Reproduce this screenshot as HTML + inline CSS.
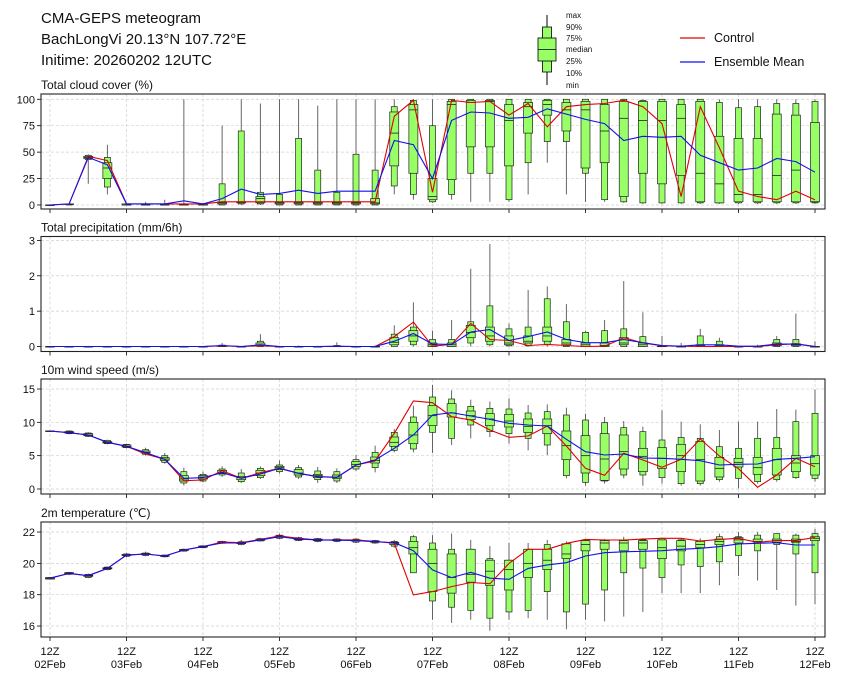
<!DOCTYPE html>
<html><head><meta charset="utf-8"><style>
html,body{margin:0;padding:0;background:#fff;}
svg{display:block;font-family:"Liberation Sans","DejaVu Sans",sans-serif;}
</style></head><body>
<svg id="chart" width="841" height="680" viewBox="0 0 841 680" xmlns="http://www.w3.org/2000/svg">
<g font-size="15" fill="#111">
<text x="41" y="23">CMA-GEPS meteogram</text>
<text x="41" y="44">BachLongVi 20.13°N 107.72°E</text>
<text x="41" y="65">Initime: 20260202 12UTC</text>
</g>
<g>
<line x1="547" y1="15" x2="547" y2="85" stroke="#000" stroke-width="1"/>
<rect x="542.5" y="27" width="9" height="45" fill="#99ff66" stroke="#000" stroke-width="0.8"/>
<rect x="538" y="38" width="18" height="23" fill="#99ff66" stroke="#000" stroke-width="0.8"/>
<line x1="538" y1="49.5" x2="556" y2="49.5" stroke="#000" stroke-width="0.8"/>
<g font-size="8" fill="#111">
<text x="566" y="18">max</text><text x="566" y="30">90%</text><text x="566" y="41">75%</text>
<text x="566" y="52">median</text><text x="566" y="64">25%</text><text x="566" y="76">10%</text><text x="566" y="88">min</text>
</g>
</g>
<g font-size="12.5" fill="#111">
<line x1="680" y1="38" x2="705" y2="38" stroke="#e00000" stroke-width="1.2"/>
<text x="714" y="42">Control</text>
<line x1="680" y1="62" x2="705" y2="62" stroke="#1010ee" stroke-width="1.2"/>
<text x="714" y="66">Ensemble Mean</text>
</g>
<g id="panels"></g>
</svg>
<script>
// ---- data (41 steps, 6-hourly from 12Z 02Feb) ----
const dayLabels = ["02Feb","03Feb","04Feb","05Feb","06Feb","07Feb","08Feb","09Feb","10Feb","11Feb","12Feb"];

const cloudTicks = [0,25,50,75,100];
const cloudControl = [0,1,46,42,1,1,1,1,1,3,3,3,3,3,3,3,3,3,84,99,12,99,97,98,85,96,74,93,95,96,99,93,77,8,93,54,13,8,5,13,5];
const cloudMean = [0,1,45,38,1,1,1,4,1,6,15,10,11,14,11,13,13,13,61,57,25,80,88,87,82,83,91,86,81,77,61,65,64,65,47,40,33,35,44,41,31];
const cloudBox = [[0,0,0,0,0,0,0],[0,0,1,1,1,1,1],[20,43,44,45,46,47,48],[10,17,25,35,40,45,57],[0,0,0,0,1,1,2],[0,0,0,0,1,1,3],[0,0,0,0,1,1,5],[0,0,0,0,1,1,100],[0,0,0,0,1,1,2],[0,0,1,2,3,20,75],[0,1,2,3,3,70,100],[0,1,2,6,8,12,96],[0,0,1,2,3,10,100],[0,0,1,2,3,63,100],[0,0,1,2,3,33,94],[0,0,1,2,3,12,100],[0,0,1,2,3,48,100],[0,0,1,2,6,33,100],[10,18,37,68,88,93,100],[5,10,30,90,95,99,100],[2,3,5,8,25,75,100],[5,10,24,95,98,100,100],[3,30,55,97,99,100,100],[3,30,55,98,99,100,100],[3,5,37,80,95,100,100],[10,40,68,93,97,100,100],[40,60,85,95,99,100,100],[10,60,70,90,97,100,100],[3,30,35,90,98,100,100],[3,5,40,70,95,100,100],[2,3,8,82,98,100,100],[1,2,30,80,98,99,100],[1,2,20,80,98,100,100],[1,2,28,82,95,100,100],[1,2,3,30,98,100,100],[1,2,2,20,65,97,100],[1,2,3,10,63,92,100],[1,2,3,10,63,93,100],[1,2,3,28,86,96,100],[1,2,3,33,85,96,100],[1,2,3,3,78,98,100]];

const precTicks = [0,1,2,3];
const precControl = [0,0,0,0,0,0,0,0,0,0.02,0,0.02,0,0,0,0,0,0,0.28,0.69,0.01,0.06,0.65,0.2,0.17,0.03,0.06,0.03,0,0.01,0.25,0.1,0.02,0.01,0,0,0,0,0.05,0.08,0];
const precMean = [0,0,0,0,0,0,0,0,0,0.03,0,0.05,0,0,0,0.01,0,0,0.15,0.37,0.07,0.06,0.41,0.48,0.17,0.28,0.41,0.2,0.11,0.11,0.2,0.11,0.03,0.01,0.05,0.05,0.01,0.01,0.07,0.07,0];
const precBox = [[0,0,0,0,0,0,0],[0,0,0,0,0,0,0],[0,0,0,0,0,0,0.02],[0,0,0,0,0,0,0.02],[0,0,0,0,0,0,0],[0,0,0,0,0,0,0.02],[0,0,0,0,0,0,0],[0,0,0,0,0,0,0.02],[0,0,0,0,0,0,0],[0,0,0,0.01,0.02,0.04,0.1],[0,0,0,0,0,0,0.02],[0,0,0.02,0.05,0.1,0.15,0.35],[0,0,0,0,0,0,0.02],[0,0,0,0,0,0,0.03],[0,0,0,0,0,0,0.02],[0,0,0,0,0.01,0.03,0.12],[0,0,0,0,0,0,0.02],[0,0,0,0,0,0,0.03],[0,0,0.05,0.12,0.25,0.35,0.6],[0,0.05,0.15,0.3,0.45,0.55,1.25],[0,0,0,0.05,0.1,0.2,0.45],[0,0,0,0.05,0.1,0.2,0.75],[0,0.1,0.25,0.4,0.6,0.7,2.2],[0,0.05,0.15,0.3,0.55,1.15,2.9],[0,0.02,0.05,0.1,0.3,0.5,0.65],[0,0.02,0.1,0.15,0.3,0.55,1.6],[0,0.05,0.15,0.3,0.55,1.35,1.7],[0,0,0.05,0.1,0.2,0.7,1.2],[0,0,0,0.05,0.1,0.4,0.45],[0,0,0,0.03,0.1,0.45,0.75],[0,0,0.05,0.1,0.25,0.5,1.85],[0,0,0,0.05,0.1,0.28,0.97],[0,0,0,0,0.01,0.02,0.3],[0,0,0,0,0,0.01,0.1],[0,0,0.01,0.03,0.05,0.3,0.5],[0,0,0,0.03,0.05,0.15,0.25],[0,0,0,0,0,0,0.02],[0,0,0,0,0,0,0.05],[0,0,0.02,0.05,0.1,0.2,0.3],[0,0,0.02,0.05,0.08,0.2,0.93],[0,0,0,0,0,0,0.15]];

const windTicks = [0,5,10,15];
const windControl = [8.7,8.45,8.1,7.0,6.4,5.25,4.45,1.25,1.35,2.75,1.6,2.45,3.1,2.35,1.85,1.75,3.6,4.2,8.35,13.2,12.95,10.85,10.35,8.85,7.75,7.95,9.45,6.45,3.1,2.05,5.35,4.35,3.25,4.45,7.5,4.95,3.05,0.25,2.1,4.6,3.35];
const windMean = [8.7,8.45,8.1,7.0,6.4,5.45,4.45,1.6,1.7,2.45,1.6,2.25,3.1,2.35,1.85,1.75,3.6,4.35,6.1,8.1,11.1,11.45,10.95,10.45,9.85,9.6,9.45,7.45,5.6,5.1,5.25,4.65,4.6,4.45,4.25,3.6,3.7,3.75,4.45,4.6,4.85];
const windBox = [[8.7,8.7,8.7,8.7,8.7,8.7,8.7],[8.2,8.3,8.4,8.5,8.6,8.7,8.8],[7.8,7.9,8.0,8.1,8.3,8.4,8.5],[6.7,6.8,6.9,7.0,7.1,7.3,7.4],[6.1,6.2,6.3,6.4,6.6,6.7,6.8],[5.0,5.2,5.4,5.5,5.7,5.9,6.2],[3.8,4.0,4.3,4.5,4.7,5.0,5.4],[0.5,0.9,1.2,1.5,2.0,2.6,3.2],[1.0,1.2,1.5,1.8,2.0,2.2,2.6],[1.8,2.1,2.3,2.5,2.8,3.0,3.4],[0.9,1.1,1.4,1.7,1.9,2.4,3.0],[1.5,1.7,2.0,2.4,2.8,3.1,3.4],[2.3,2.6,2.9,3.2,3.4,3.6,4.3],[1.5,1.8,2.1,2.4,2.9,3.2,3.6],[0.9,1.4,1.7,2.0,2.2,2.7,3.3],[0.9,1.2,1.6,1.8,2.1,2.6,3.1],[2.7,3.0,3.4,3.7,4.1,4.4,5.1],[2.5,3.2,3.9,4.3,4.8,5.5,6.5],[5.5,5.8,6.4,7.0,7.8,8.5,9.0],[5.5,6.0,6.8,8.1,10.0,10.8,12.5],[5.4,8.5,9.5,11,12.5,13.8,15.6],[6.6,7.6,10.8,11.4,12.8,13.5,14.8],[7.6,9.6,10.4,11.0,11.7,12.4,13.4],[7.8,8.6,9.5,10.5,11.3,12.1,13.1],[6.8,8.3,9.3,10.2,11.2,12.0,13.6],[5.8,7.6,8.5,9.4,10.5,11.4,12.6],[5.1,6.6,8.3,9.5,10.5,11.6,12.7],[1.6,2.0,4.4,6.5,8.7,11.1,12.2],[0.5,1.0,2.4,5.0,8.0,10.35,11.3],[0.8,1.2,1.3,4.5,8.3,9.95,10.8],[1.6,2.1,3.0,5.6,8.1,9.2,10.2],[0.5,2.1,2.6,4.9,6.1,8.6,9.35],[0.8,1.7,3.1,4.6,6.2,7.35,11.8],[0.5,0.8,2.6,5.0,6.7,7.75,10.1],[0.5,0.8,1.2,4.4,7.1,7.6,9.7],[1.1,1.4,1.8,3.1,4.75,6.35,8.85],[0.1,1.6,3.3,4.0,4.6,6.1,10.1],[0.8,1.1,2.2,3.2,4.75,7.6,10.1],[1.1,1.4,2.1,4.4,6.1,7.75,12.0],[1.5,1.7,2.6,3.9,5.0,10.1,11.9],[1.1,1.6,2.1,3.8,5.0,11.35,14.9]];

const tempTicks = [16,18,20,22];
const tempControl = [19.05,19.36,19.21,19.68,20.53,20.6,20.47,20.85,21.07,21.36,21.32,21.53,21.75,21.6,21.5,21.5,21.5,21.4,21.28,17.99,18.2,18.52,18.78,18.7,20.0,20.9,20.9,21.28,21.53,21.49,21.49,21.55,21.6,21.6,21.43,21.53,21.6,21.34,21.45,21.45,21.66];
const tempMean = [19.05,19.36,19.21,19.68,20.53,20.6,20.47,20.85,21.07,21.3,21.3,21.5,21.7,21.55,21.5,21.48,21.45,21.38,21.32,20.81,19.58,19.09,19.43,19.05,18.98,19.68,19.9,20.04,20.47,20.68,20.74,20.77,20.81,20.9,20.96,21.07,21.24,21.28,21.32,21.17,21.17];
const tempBox = [[19.0,19.0,19.0,19.05,19.1,19.1,19.1],[19.25,19.3,19.33,19.36,19.4,19.42,19.45],[19.05,19.1,19.17,19.21,19.25,19.3,19.35],[19.55,19.6,19.65,19.68,19.72,19.76,19.8],[20.4,20.45,20.5,20.53,20.57,20.6,20.65],[20.45,20.5,20.56,20.6,20.63,20.66,20.75],[20.38,20.42,20.45,20.47,20.5,20.53,20.56],[20.75,20.78,20.82,20.85,20.88,20.9,20.95],[20.98,21.0,21.04,21.07,21.1,21.12,21.15],[21.25,21.28,21.32,21.35,21.38,21.4,21.45],[21.15,21.2,21.26,21.3,21.34,21.38,21.5],[21.4,21.43,21.47,21.5,21.55,21.58,21.63],[21.55,21.6,21.66,21.7,21.75,21.8,21.9],[21.42,21.46,21.5,21.55,21.6,21.64,21.7],[21.35,21.4,21.45,21.5,21.55,21.58,21.62],[21.35,21.4,21.45,21.48,21.52,21.56,21.6],[21.3,21.35,21.42,21.45,21.5,21.55,21.6],[21.25,21.3,21.35,21.38,21.42,21.46,21.5],[21.0,21.1,21.2,21.3,21.35,21.4,21.5],[19.4,19.4,20.6,21.0,21.4,21.7,21.8],[16.4,17.6,18.2,20.0,20.9,21.3,21.8],[16.2,17.2,18.1,19.1,20.6,20.9,21.9],[16.4,17.0,18.8,19.3,20.9,20.9,21.5],[15.7,16.5,18.6,19.5,20.2,20.3,21.1],[16.4,16.9,18.3,19.6,20.2,20.2,21.3],[16.5,17.0,19.1,20.0,20.9,20.9,21.3],[16.4,18.2,19.6,20.2,20.9,21.2,21.5],[15.8,16.9,20.3,20.6,21.25,21.25,21.4],[16.4,17.4,20.8,21.2,21.45,21.5,21.55],[16.3,18.3,20.9,21.3,21.45,21.5,21.55],[16.6,19.4,20.8,21.3,21.45,21.5,21.7],[16.9,19.7,20.9,21.3,21.45,21.5,21.6],[18.1,19.1,20.3,21.0,21.5,21.6,21.6],[18.1,19.9,20.8,21.1,21.45,21.5,21.55],[18.1,19.8,21.0,21.2,21.4,21.4,21.6],[18.6,20.1,21.2,21.4,21.55,21.7,21.9],[19.2,20.5,21.3,21.5,21.65,21.7,22.0],[18.9,20.8,21.35,21.4,21.55,21.8,22.0],[18.3,21.2,21.35,21.45,21.55,21.9,21.9],[17.3,20.6,21.35,21.4,21.55,21.8,21.9],[17.4,19.4,21.45,21.6,21.7,21.9,22.2]];

// ---- rendering ----
const NS = "http://www.w3.org/2000/svg";
const X0 = 41, X1 = 825, T0 = 50, STEP = 19.125; // px per 6h
function xAt(i){ return T0 + i*STEP; }
function mk(tag, attrs, parent){
  const e = document.createElementNS(NS, tag);
  for (const k in attrs) e.setAttribute(k, attrs[k]);
  parent.appendChild(e); return e;
}
const root = document.getElementById("panels");
const panels = [
  {key:"cloud", title:"Total cloud cover (%)", top:94, lo:-3.8, hi:105, ticks:cloudTicks, ctrl:cloudControl, mean:cloudMean, box:cloudBox},
  {key:"precip", title:"Total precipitation (mm/6h)", top:236.5, lo:-0.14, hi:3.11, ticks:precTicks, ctrl:precControl, mean:precMean, box:precBox},
  {key:"wind", title:"10m wind speed (m/s)", top:379, lo:-0.75, hi:16.5, ticks:windTicks, ctrl:windControl, mean:windMean, box:windBox},
  {key:"temp", title:"2m temperature (\u2103)", top:522, lo:15.3, hi:22.64, ticks:tempTicks, ctrl:tempControl, mean:tempMean, box:tempBox}
];
const H = 115;
panels.forEach((p, pi) => {
  const g = mk("g", {}, root);
  
  
  const y = v => p.top + H - (v - p.lo) / (p.hi - p.lo) * H;
  const t = mk("text", {x:41, y:p.top-5, "font-size":12, fill:"#111"}, g);
  t.textContent = p.title;
  
  
  // grid
  for (let d = 0; d < dayLabels.length; d++) {
    const gx = xAt(d*4);
    const gl = mk("line", {x1:gx, x2:gx, y1:p.top, y2:p.top+H, stroke:"#d0d0d0", "stroke-width":0.7, "stroke-dasharray":"3,2"}, g);
    
    
    const tk = mk("line", {x1:gx, x2:gx, y1:p.top+H, y2:p.top+H+4, stroke:"#000", "stroke-width":0.8}, g);
    
    
  }
  p.ticks.forEach(v => {
    const yy = y(v);
    const gl = mk("line", {x1:X0, x2:X1, y1:yy, y2:yy, stroke:"#d0d0d0", "stroke-width":0.7, "stroke-dasharray":"3,2"}, g);
    
    
    const tk = mk("line", {x1:X0-4, x2:X0, y1:yy, y2:yy, stroke:"#000", "stroke-width":0.8}, g);
    
    
    const lb = mk("text", {x:X0-6, y:yy+4, "font-size":11, "text-anchor":"end", fill:"#111"}, g);
    lb.textContent = String(v);
    
    
  });
  // boxes
  p.box.forEach((b, i) => {
    const cx = xAt(i);
    const bg = mk("g", {}, g);
    
    
    mk("line", {x1:cx, x2:cx, y1:y(b[0]), y2:y(b[6]), stroke:"#555", "stroke-width":0.9}, bg);
    mk("rect", {x:cx-3, y:y(b[5]), width:6, height:Math.max(0.5, y(b[1])-y(b[5])), fill:"#99ff66", stroke:"#222", "stroke-width":0.7}, bg);
    mk("rect", {x:cx-4.5, y:y(b[4]), width:9, height:Math.max(0.5, y(b[2])-y(b[4])), fill:"#99ff66", stroke:"#222", "stroke-width":0.7}, bg);
    mk("line", {x1:cx-4.5, x2:cx+4.5, y1:y(b[3]), y2:y(b[3]), stroke:"#222", "stroke-width":0.8}, bg);
  });
  const ptsC = p.ctrl.map((v,i)=>xAt(i).toFixed(1)+","+y(v).toFixed(1)).join(" ");
  const pc = mk("polyline", {points:ptsC, fill:"none", stroke:"#e00000", "stroke-width":1.1}, g);
  
  
  const ptsM = p.mean.map((v,i)=>xAt(i).toFixed(1)+","+y(v).toFixed(1)).join(" ");
  const pm = mk("polyline", {points:ptsM, fill:"none", stroke:"#1010ee", "stroke-width":1.1}, g);
  
  
  const fr = mk("rect", {x:X0, y:p.top, width:X1-X0, height:H, fill:"none", stroke:"#222", "stroke-width":1.1}, g);
  
  
  if (pi === panels.length-1) {
    dayLabels.forEach((d, k) => {
      const gx = xAt(k*4);
      const a = mk("text", {x:gx, y:p.top+H+18, "font-size":11, "text-anchor":"middle", fill:"#111"}, g);
      a.textContent = "12Z";
      
      
      const b = mk("text", {x:gx, y:p.top+H+31, "font-size":11, "text-anchor":"middle", fill:"#111"}, g);
      b.textContent = d;
      
      
    });
  }
});
</script>
</body></html>
